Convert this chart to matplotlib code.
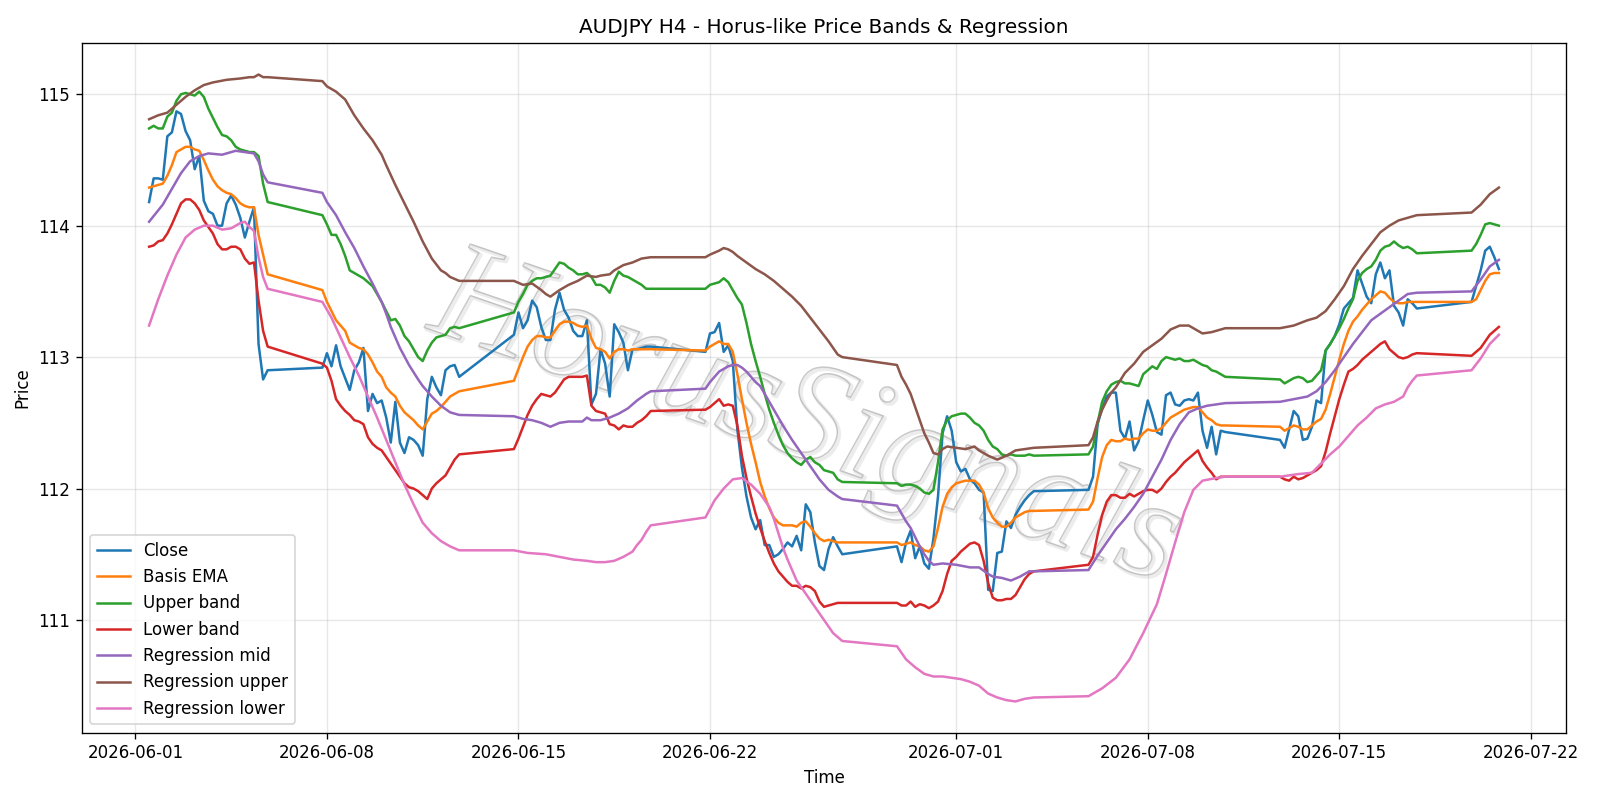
import matplotlib
matplotlib.use("Agg")
import matplotlib.pyplot as plt
import matplotlib.patheffects as pe
import pandas as pd

# ---------------- data ----------------
title = "AUDJPY H4 - Horus-like Price Bands & Regression"
watermark = "HorusSignals"
year = "2026"
first_bar = "2026-06-01 12:00"
last_bar = "2026-07-20 20:00"

# per-bar series (H4 bars, weekend gap Fri 20:00 -> Sun 20:00)
close = [
    114.18, 114.36, 114.36,
    114.35, 114.68, 114.71, 114.87, 114.85, 114.72,
    114.65, 114.43, 114.53, 114.19, 114.11, 114.09,
    114.00, 114.00, 114.17, 114.23, 114.16, 114.06,
    113.91, 114.03, 114.14, 113.10, 112.83, 112.90,
    112.92,
    113.03, 112.93, 113.09, 112.93, 112.84, 112.75,
    112.90, 112.96, 113.07, 112.59, 112.72, 112.65,
    112.67, 112.54, 112.35, 112.66, 112.35, 112.27,
    112.39, 112.37, 112.33, 112.25, 112.68, 112.85,
    112.77, 112.71, 112.90, 112.93, 112.94, 112.85,
    113.17,
    113.34, 113.22, 113.28, 113.43, 113.38, 113.23,
    113.13, 113.13, 113.36, 113.49, 113.36, 113.30,
    113.20, 113.16, 113.16, 113.28, 112.64, 112.72,
    113.06, 112.95, 112.70, 113.25, 113.19, 113.11,
    112.90, 113.06, 113.06, 113.07, 113.08, 113.08,
    113.04,
    113.18, 113.19, 113.26, 113.04, 113.09, 112.97,
    112.45, 112.16, 111.94, 111.78, 111.69, 111.76,
    111.57, 111.57, 111.48, 111.50, 111.54, 111.59,
    111.56, 111.64, 111.53, 111.88, 111.82, 111.59,
    111.41, 111.38, 111.54, 111.63, 111.56, 111.50,
    111.56,
    111.44, 111.59, 111.68, 111.47, 111.56, 111.43,
    111.39, 111.62, 111.94, 112.42, 112.55, 112.44,
    112.20, 112.13, 112.15, 112.07, 112.04, 111.99,
    111.97, 111.23, 111.22, 111.51, 111.52, 111.75,
    111.70, 111.80, 111.86, 111.91, 111.95, 111.98,
    111.99,
    112.09, 112.49, 112.61, 112.70, 112.73, 112.73,
    112.44, 112.38, 112.51, 112.29, 112.36, 112.52,
    112.67, 112.56, 112.43, 112.41, 112.71, 112.73,
    112.64, 112.63, 112.67, 112.68, 112.67, 112.73,
    112.44, 112.31, 112.47, 112.26, 112.44, 112.43,
    112.37,
    112.31, 112.45, 112.59, 112.55, 112.37, 112.38,
    112.47, 112.67, 112.65, 113.05, 113.10, 113.16,
    113.25, 113.37, 113.41, 113.45, 113.66, 113.56,
    113.46, 113.41, 113.63, 113.72, 113.60, 113.66,
    113.39, 113.34, 113.24, 113.44, 113.41, 113.37,
    113.42,
    113.54, 113.66, 113.81, 113.84, 113.76, 113.67,
]

basis_ema = [
    114.29, 114.30, 114.31,
    114.32, 114.38, 114.46, 114.56, 114.58, 114.60,
    114.60, 114.58, 114.57, 114.50, 114.42, 114.35,
    114.30, 114.27, 114.25, 114.24, 114.21, 114.17,
    114.15, 114.14, 114.14, 113.93, 113.78, 113.63,
    113.51,
    113.42, 113.35, 113.28, 113.24, 113.20, 113.11,
    113.09, 113.07, 113.06, 113.02, 112.96, 112.89,
    112.85, 112.77, 112.73, 112.70, 112.63, 112.58,
    112.55, 112.52, 112.48, 112.45, 112.51, 112.57,
    112.59, 112.62, 112.66, 112.70, 112.72, 112.74,
    112.82,
    112.91, 113.00, 113.08, 113.13, 113.16, 113.16,
    113.15, 113.15, 113.20, 113.25, 113.27, 113.27,
    113.26, 113.24, 113.23, 113.24, 113.14, 113.07,
    113.06, 113.04, 112.99, 113.04, 113.06, 113.06,
    113.05, 113.06, 113.06, 113.06, 113.06, 113.06,
    113.05,
    113.08, 113.10, 113.12, 113.10, 113.10, 113.04,
    112.87, 112.68, 112.50, 112.34, 112.20, 112.05,
    111.94, 111.85, 111.78, 111.74, 111.72, 111.72,
    111.72, 111.71, 111.74, 111.75, 111.71, 111.66,
    111.62, 111.60, 111.61, 111.60, 111.59, 111.59,
    111.59,
    111.57, 111.58, 111.59, 111.57, 111.56, 111.53,
    111.52, 111.56, 111.70, 111.86, 111.96, 112.01,
    112.04, 112.05, 112.06, 112.06, 112.06, 112.03,
    111.97, 111.85, 111.78, 111.74, 111.71, 111.71,
    111.74, 111.78, 111.80, 111.82, 111.83, 111.83,
    111.84,
    111.90, 112.08, 112.24, 112.33, 112.37, 112.36,
    112.36, 112.38, 112.37, 112.38, 112.38, 112.42,
    112.45, 112.44, 112.44, 112.46, 112.50, 112.54,
    112.56, 112.58, 112.60, 112.61, 112.62, 112.62,
    112.58, 112.54, 112.52, 112.49, 112.48, 112.48,
    112.47,
    112.44, 112.46, 112.48, 112.47, 112.45, 112.45,
    112.48, 112.51, 112.53, 112.60, 112.72, 112.85,
    112.98, 113.10, 113.20, 113.27, 113.31, 113.36,
    113.40, 113.44, 113.47, 113.50, 113.49, 113.45,
    113.42, 113.41, 113.41, 113.42, 113.42, 113.42,
    113.42,
    113.44, 113.51, 113.58, 113.63, 113.64, 113.64,
]

upper_band = [
    114.74, 114.76, 114.74,
    114.74, 114.83, 114.86, 114.95, 115.00, 115.01,
    115.00, 114.99, 115.02, 114.98, 114.89, 114.82,
    114.75, 114.69, 114.68, 114.65, 114.60, 114.58,
    114.57, 114.56, 114.56, 114.53, 114.32, 114.18,
    114.08,
    114.01, 113.93, 113.93, 113.86, 113.77, 113.66,
    113.64, 113.62, 113.60, 113.57, 113.54, 113.48,
    113.42, 113.35, 113.28, 113.29, 113.24, 113.16,
    113.12, 113.06, 113.00, 112.97, 113.05, 113.11,
    113.15, 113.16, 113.17, 113.22, 113.23, 113.22,
    113.34,
    113.42, 113.48, 113.55, 113.58, 113.60, 113.60,
    113.61, 113.62, 113.67, 113.72, 113.71, 113.68,
    113.66, 113.63, 113.63, 113.64, 113.61, 113.55,
    113.55, 113.53, 113.49, 113.58, 113.65, 113.62,
    113.61, 113.59, 113.57, 113.55, 113.52, 113.52,
    113.52,
    113.55, 113.56, 113.57, 113.60, 113.57, 113.51,
    113.45, 113.40, 113.26, 113.10, 112.97, 112.85,
    112.72, 112.60, 112.50, 112.41, 112.33, 112.27,
    112.23, 112.20, 112.18, 112.22, 112.24, 112.20,
    112.18, 112.14, 112.13, 112.12, 112.07, 112.05,
    112.04,
    112.02, 112.03, 112.03, 112.02, 112.00, 111.97,
    111.96, 111.99, 112.20, 112.45, 112.52, 112.55,
    112.56, 112.57, 112.57, 112.54, 112.50, 112.48,
    112.44, 112.37, 112.32, 112.30, 112.26, 112.25,
    112.26, 112.25, 112.25, 112.25, 112.26, 112.25,
    112.26,
    112.32, 112.50, 112.66, 112.74, 112.79, 112.81,
    112.82, 112.80, 112.80, 112.79, 112.78, 112.87,
    112.90, 112.93, 112.91, 112.97, 113.00, 112.99,
    112.98, 112.99, 112.97, 112.97, 112.98, 112.96,
    112.94, 112.93, 112.90, 112.89, 112.87, 112.85,
    112.83,
    112.80, 112.82, 112.84, 112.85, 112.84, 112.81,
    112.82, 112.86, 112.90, 113.05, 113.10, 113.16,
    113.22, 113.29, 113.37, 113.44, 113.58, 113.64,
    113.67, 113.69, 113.74, 113.81, 113.84, 113.85,
    113.88, 113.85, 113.83, 113.84, 113.82, 113.79,
    113.81,
    113.86, 113.93, 114.01, 114.02, 114.01, 114.00,
]

lower_band = [
    113.84, 113.85, 113.88,
    113.89, 113.94, 114.01, 114.09, 114.17, 114.20,
    114.20, 114.17, 114.12, 114.04, 113.99, 113.94,
    113.86, 113.82, 113.82, 113.84, 113.84, 113.82,
    113.75, 113.71, 113.72, 113.43, 113.20, 113.08,
    112.95,
    112.92, 112.82, 112.68, 112.63, 112.59, 112.56,
    112.52, 112.51, 112.49, 112.39, 112.34, 112.31,
    112.29, 112.24, 112.19, 112.14, 112.09, 112.04,
    112.01, 112.00, 111.98, 111.95, 111.92, 112.00,
    112.04, 112.07, 112.10, 112.16, 112.22, 112.26,
    112.30,
    112.38, 112.47, 112.56, 112.63, 112.68, 112.72,
    112.71, 112.70, 112.73, 112.78, 112.83, 112.85,
    112.85, 112.85, 112.85, 112.86, 112.63, 112.59,
    112.58, 112.57, 112.49, 112.48, 112.45, 112.48,
    112.47, 112.47, 112.50, 112.52, 112.55, 112.59,
    112.60,
    112.62, 112.65, 112.68, 112.63, 112.64, 112.63,
    112.48, 112.25, 112.08, 111.94, 111.81, 111.70,
    111.60, 111.51, 111.43, 111.37, 111.33, 111.29,
    111.26, 111.26, 111.24, 111.26, 111.25, 111.22,
    111.14, 111.10, 111.11, 111.12, 111.13, 111.13,
    111.13,
    111.11, 111.11, 111.14, 111.10, 111.12, 111.11,
    111.09, 111.11, 111.14, 111.22, 111.35, 111.45,
    111.48, 111.52, 111.55, 111.58, 111.59, 111.57,
    111.45, 111.28, 111.17, 111.15, 111.15, 111.16,
    111.16, 111.19, 111.25, 111.31, 111.35, 111.37,
    111.42,
    111.48, 111.65, 111.80, 111.90, 111.95, 111.95,
    111.93, 111.93, 111.96, 111.94, 111.96, 111.98,
    111.99, 111.99, 111.97, 112.00, 112.05, 112.09,
    112.12, 112.16, 112.20, 112.23, 112.26, 112.29,
    112.21, 112.16, 112.12, 112.07, 112.09, 112.09,
    112.09,
    112.07, 112.06, 112.09, 112.07, 112.08, 112.10,
    112.12, 112.14, 112.17, 112.28, 112.42, 112.55,
    112.68, 112.79, 112.89, 112.91, 112.94, 112.98,
    113.01, 113.04, 113.07, 113.10, 113.12, 113.06,
    113.03, 113.00, 112.99, 113.00, 113.02, 113.03,
    113.01,
    113.04, 113.07, 113.12, 113.17, 113.20, 113.23,
]

# regression channel, read at key bars ("MM-DD HH", value)
reg_mid = [
    ("06-01 12", 114.03), ("06-02 00", 114.16), ("06-02 08", 114.28), ("06-02 16", 114.40),
    ("06-03 00", 114.49), ("06-03 08", 114.53), ("06-03 16", 114.55), ("06-04 04", 114.54),
    ("06-04 16", 114.57), ("06-05 00", 114.56), ("06-05 08", 114.55), ("06-05 12", 114.49),
    ("06-05 16", 114.39), ("06-05 20", 114.33),
    ("06-07 20", 114.25), ("06-08 00", 114.18), ("06-08 08", 114.08), ("06-08 16", 113.95),
    ("06-09 00", 113.83), ("06-09 08", 113.69), ("06-09 16", 113.56), ("06-10 00", 113.42),
    ("06-10 04", 113.33), ("06-10 08", 113.23), ("06-10 16", 113.07), ("06-11 00", 112.94),
    ("06-11 08", 112.83), ("06-11 12", 112.78), ("06-11 20", 112.70), ("06-12 04", 112.63),
    ("06-12 12", 112.58), ("06-12 20", 112.56),
    ("06-14 20", 112.55), ("06-15 04", 112.53), ("06-15 12", 112.52), ("06-15 20", 112.50),
    ("06-16 04", 112.47), ("06-16 12", 112.50), ("06-16 20", 112.51), ("06-17 08", 112.51),
    ("06-17 12", 112.54), ("06-17 16", 112.52), ("06-18 00", 112.52), ("06-18 08", 112.54),
    ("06-18 16", 112.57), ("06-19 00", 112.61), ("06-19 08", 112.67), ("06-19 16", 112.72),
    ("06-19 20", 112.74),
    ("06-21 20", 112.76), ("06-22 00", 112.81), ("06-22 04", 112.85), ("06-22 08", 112.89),
    ("06-22 12", 112.91), ("06-22 16", 112.93), ("06-22 20", 112.94), ("06-23 00", 112.94),
    ("06-23 04", 112.92), ("06-23 08", 112.89), ("06-23 12", 112.85), ("06-23 16", 112.81),
    ("06-23 20", 112.78), ("06-24 00", 112.72), ("06-24 08", 112.60), ("06-24 16", 112.48),
    ("06-25 00", 112.37), ("06-25 08", 112.27), ("06-25 16", 112.17), ("06-26 00", 112.07),
    ("06-26 08", 111.99), ("06-26 16", 111.94), ("06-26 20", 111.92),
    ("06-28 20", 111.87), ("06-29 00", 111.81), ("06-29 04", 111.75), ("06-29 08", 111.70),
    ("06-29 12", 111.63), ("06-29 16", 111.56), ("06-29 20", 111.50), ("06-30 00", 111.45),
    ("06-30 04", 111.42), ("06-30 12", 111.43), ("07-01 00", 111.42), ("07-01 12", 111.40),
    ("07-01 20", 111.40), ("07-02 04", 111.35), ("07-02 08", 111.33), ("07-02 16", 111.32),
    ("07-03 00", 111.30), ("07-03 08", 111.33), ("07-03 16", 111.37), ("07-03 20", 111.37),
    ("07-05 20", 111.38), ("07-06 04", 111.49), ("07-06 12", 111.59), ("07-06 20", 111.69),
    ("07-07 04", 111.77), ("07-07 12", 111.86), ("07-07 20", 111.96), ("07-08 04", 112.09),
    ("07-08 12", 112.22), ("07-08 20", 112.37), ("07-09 04", 112.49), ("07-09 12", 112.58),
    ("07-09 20", 112.61), ("07-10 04", 112.63), ("07-10 12", 112.64), ("07-10 20", 112.65),
    ("07-12 20", 112.66), ("07-13 08", 112.68), ("07-13 20", 112.70), ("07-14 04", 112.74),
    ("07-14 12", 112.81), ("07-14 20", 112.90), ("07-15 04", 113.00), ("07-15 12", 113.10),
    ("07-15 20", 113.19), ("07-16 04", 113.28), ("07-16 12", 113.33), ("07-16 20", 113.38),
    ("07-17 04", 113.43), ("07-17 12", 113.48), ("07-17 20", 113.49),
    ("07-19 20", 113.50), ("07-20 04", 113.59), ("07-20 12", 113.69), ("07-20 20", 113.74),
]

reg_upper = [
    ("06-01 12", 114.81), ("06-01 20", 114.84), ("06-02 04", 114.86), ("06-02 12", 114.92),
    ("06-02 20", 114.98), ("06-03 04", 115.03), ("06-03 12", 115.07), ("06-03 20", 115.09),
    ("06-04 08", 115.11), ("06-04 20", 115.12), ("06-05 04", 115.13), ("06-05 08", 115.13),
    ("06-05 12", 115.15), ("06-05 16", 115.13), ("06-05 20", 115.13),
    ("06-07 20", 115.10), ("06-08 00", 115.06), ("06-08 08", 115.02), ("06-08 16", 114.96),
    ("06-08 20", 114.90), ("06-09 00", 114.84), ("06-09 08", 114.74), ("06-09 16", 114.65),
    ("06-10 00", 114.54), ("06-10 04", 114.46), ("06-10 12", 114.31), ("06-10 20", 114.17),
    ("06-11 04", 114.03), ("06-11 12", 113.88), ("06-11 20", 113.75), ("06-12 04", 113.66),
    ("06-12 08", 113.64), ("06-12 12", 113.61), ("06-12 20", 113.58),
    ("06-14 20", 113.58), ("06-15 04", 113.55), ("06-15 12", 113.56), ("06-15 20", 113.51),
    ("06-16 00", 113.48), ("06-16 04", 113.46), ("06-16 12", 113.51), ("06-16 20", 113.55),
    ("06-17 04", 113.58), ("06-17 12", 113.62), ("06-17 20", 113.61), ("06-18 00", 113.62),
    ("06-18 08", 113.63), ("06-18 12", 113.66), ("06-18 20", 113.70), ("06-19 04", 113.72),
    ("06-19 12", 113.75), ("06-19 20", 113.76),
    ("06-21 20", 113.76), ("06-22 00", 113.78), ("06-22 08", 113.81), ("06-22 12", 113.83),
    ("06-22 16", 113.82), ("06-22 20", 113.80), ("06-23 00", 113.77), ("06-23 08", 113.72),
    ("06-23 16", 113.67), ("06-24 00", 113.63), ("06-24 08", 113.58), ("06-24 16", 113.52),
    ("06-25 00", 113.46), ("06-25 08", 113.39), ("06-25 16", 113.30), ("06-26 00", 113.21),
    ("06-26 08", 113.12), ("06-26 16", 113.02), ("06-26 20", 113.00),
    ("06-28 20", 112.94), ("06-29 00", 112.85), ("06-29 04", 112.79), ("06-29 08", 112.72),
    ("06-29 12", 112.62), ("06-29 16", 112.52), ("06-29 20", 112.42), ("06-30 00", 112.35),
    ("06-30 04", 112.27), ("06-30 08", 112.26), ("06-30 12", 112.30), ("06-30 16", 112.32),
    ("07-01 00", 112.31), ("07-01 08", 112.30), ("07-01 16", 112.32), ("07-01 20", 112.29),
    ("07-02 04", 112.25), ("07-02 12", 112.22), ("07-02 20", 112.25), ("07-03 04", 112.29),
    ("07-03 12", 112.30), ("07-03 20", 112.31),
    ("07-05 20", 112.33), ("07-06 00", 112.39), ("07-06 04", 112.51), ("07-06 08", 112.60),
    ("07-06 12", 112.67), ("07-06 16", 112.73), ("07-06 20", 112.77), ("07-07 04", 112.88),
    ("07-07 12", 112.95), ("07-07 20", 113.04), ("07-08 04", 113.09), ("07-08 12", 113.14),
    ("07-08 20", 113.21), ("07-09 04", 113.24), ("07-09 12", 113.24), ("07-09 20", 113.20),
    ("07-10 00", 113.18), ("07-10 08", 113.19), ("07-10 20", 113.22),
    ("07-12 20", 113.22), ("07-13 08", 113.24), ("07-13 20", 113.28), ("07-14 04", 113.30),
    ("07-14 12", 113.35), ("07-14 20", 113.44), ("07-15 04", 113.54), ("07-15 12", 113.67),
    ("07-15 20", 113.77), ("07-16 04", 113.86), ("07-16 12", 113.95), ("07-16 20", 114.00),
    ("07-17 04", 114.04), ("07-17 12", 114.06), ("07-17 20", 114.08),
    ("07-19 20", 114.10), ("07-20 04", 114.16), ("07-20 12", 114.24), ("07-20 20", 114.29),
]

reg_lower = [
    ("06-01 12", 113.24), ("06-01 20", 113.44), ("06-02 04", 113.62), ("06-02 12", 113.78),
    ("06-02 20", 113.91), ("06-03 04", 113.97), ("06-03 12", 114.00), ("06-03 20", 114.00),
    ("06-04 04", 113.97), ("06-04 12", 113.98), ("06-04 20", 114.02), ("06-05 00", 114.03),
    ("06-05 04", 113.99), ("06-05 08", 113.96), ("06-05 12", 113.76), ("06-05 16", 113.61),
    ("06-05 20", 113.52),
    ("06-07 20", 113.42), ("06-08 04", 113.30), ("06-08 12", 113.15), ("06-08 20", 113.00),
    ("06-09 04", 112.86), ("06-09 12", 112.70), ("06-09 20", 112.54), ("06-10 04", 112.37),
    ("06-10 12", 112.20), ("06-10 20", 112.03), ("06-11 04", 111.88), ("06-11 12", 111.74),
    ("06-11 20", 111.66), ("06-12 04", 111.60), ("06-12 12", 111.56), ("06-12 20", 111.53),
    ("06-14 20", 111.53), ("06-15 08", 111.51), ("06-16 00", 111.50), ("06-16 12", 111.48),
    ("06-17 00", 111.46), ("06-17 12", 111.45), ("06-17 20", 111.44), ("06-18 04", 111.44),
    ("06-18 12", 111.45), ("06-18 20", 111.48), ("06-19 04", 111.52), ("06-19 08", 111.57),
    ("06-19 12", 111.61), ("06-19 16", 111.67), ("06-19 20", 111.72),
    ("06-21 20", 111.78), ("06-22 04", 111.91), ("06-22 12", 112.00), ("06-22 20", 112.07),
    ("06-23 04", 112.08), ("06-23 12", 112.03), ("06-23 20", 111.96), ("06-24 04", 111.86),
    ("06-24 08", 111.77), ("06-24 12", 111.66), ("06-24 16", 111.55), ("06-24 20", 111.46),
    ("06-25 04", 111.30), ("06-25 12", 111.20), ("06-25 20", 111.10), ("06-26 04", 111.00),
    ("06-26 12", 110.90), ("06-26 20", 110.84),
    ("06-28 20", 110.80), ("06-29 04", 110.70), ("06-29 12", 110.64), ("06-29 20", 110.59),
    ("06-30 04", 110.57), ("06-30 12", 110.57), ("06-30 20", 110.56), ("07-01 04", 110.55),
    ("07-01 12", 110.53), ("07-01 20", 110.50), ("07-02 04", 110.44), ("07-02 12", 110.41),
    ("07-02 20", 110.39), ("07-03 04", 110.38), ("07-03 12", 110.40), ("07-03 20", 110.41),
    ("07-05 20", 110.42), ("07-06 08", 110.48), ("07-06 20", 110.56), ("07-07 08", 110.70),
    ("07-07 20", 110.90), ("07-08 08", 111.12), ("07-08 16", 111.35), ("07-09 00", 111.59),
    ("07-09 08", 111.82), ("07-09 16", 111.99), ("07-10 00", 112.06), ("07-10 12", 112.08),
    ("07-10 20", 112.09),
    ("07-12 20", 112.09), ("07-13 12", 112.11), ("07-14 00", 112.12), ("07-14 08", 112.19),
    ("07-14 16", 112.26), ("07-15 00", 112.32), ("07-15 08", 112.40), ("07-15 16", 112.48),
    ("07-16 00", 112.54), ("07-16 08", 112.61), ("07-16 16", 112.64), ("07-17 00", 112.66),
    ("07-17 08", 112.70), ("07-17 12", 112.77), ("07-17 16", 112.82), ("07-17 20", 112.86),
    ("07-19 20", 112.90), ("07-20 04", 112.99), ("07-20 12", 113.10), ("07-20 20", 113.17),
]

# ---------------- time axis ----------------
rng = pd.date_range(first_bar, last_bar, freq="4h")
bars = [t for t in rng if not (t.dayofweek == 5 or (t.dayofweek == 6 and t.hour < 20))]


def split(points):
    t = pd.to_datetime([f"{year}-{s}:00" for s, _ in points])
    v = [val for _, val in points]
    return t, v


mid_t, mid_v = split(reg_mid)
up_t, up_v = split(reg_upper)
lo_t, lo_v = split(reg_lower)

# ---------------- plot ----------------
fig, ax = plt.subplots(figsize=(16 / 1.2, 8 / 1.2), dpi=120)
fig.subplots_adjust(left=0.051, right=0.979, bottom=0.084, top=0.946)

ax.plot(bars, close, label="Close")
ax.plot(bars, basis_ema, label="Basis EMA")
ax.plot(bars, upper_band, label="Upper band")
ax.plot(bars, lower_band, label="Lower band")
ax.plot(mid_t, mid_v, label="Regression mid")
ax.plot(up_t, up_v, label="Regression upper")
ax.plot(lo_t, lo_v, label="Regression lower")

ax.text(0.488, 0.45, watermark, transform=ax.transAxes, fontsize=86,
        rotation=-19, ha="center", va="center", style="italic",
        family=["Liberation Serif", "DejaVu Serif"],
        color="none", zorder=1,
        path_effects=[
            pe.Stroke(linewidth=2.2, foreground=(0.87, 0.87, 0.87, 0.55), offset=(1.2, -1.2)),
            pe.Stroke(linewidth=0.9, foreground=(0.68, 0.68, 0.68, 0.65)),
            pe.Normal(),
        ])

ax.set_title(title)
ax.set_xlabel("Time")
ax.set_ylabel("Price")
ax.grid(True, alpha=0.3)
ax.legend(loc="lower left")

fig.savefig("out.png", dpi=120)
